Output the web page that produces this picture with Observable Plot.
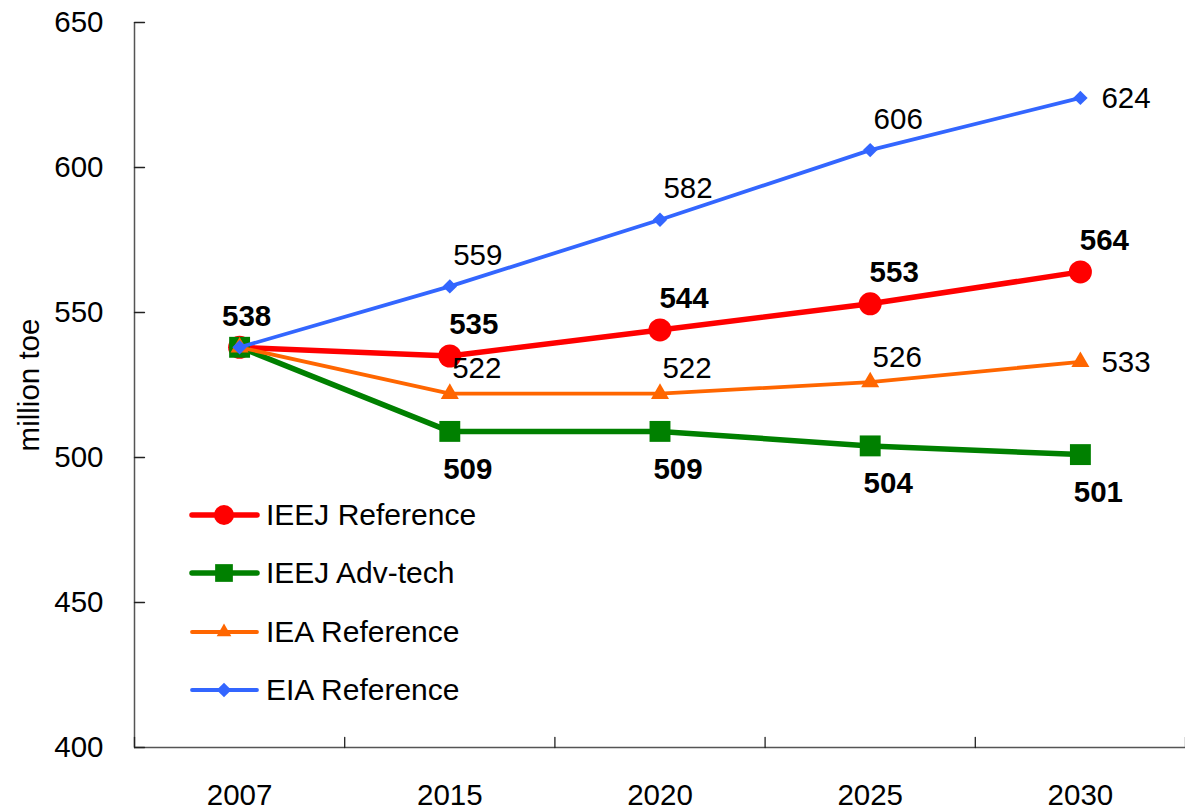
<!DOCTYPE html>
<html>
<head>
<meta charset="utf-8">
<script src="https://cdn.jsdelivr.net/npm/d3@7"></script>
<script src="https://cdn.jsdelivr.net/npm/@observablehq/plot@0.6"></script>
<style>
  html, body { margin: 0; padding: 0; background: #fff; }
  #wrap { position: relative; width: 1185px; height: 810px; font-family: "Liberation Sans", Arial, sans-serif; }
  #legend { position: absolute; left: 0; top: 0; }
  .lrow { position: absolute; left: 189px; height: 36px; display: flex; align-items: center; font-size: 30px; color: #000; white-space: nowrap; }
  .lrow svg { margin-right: 6px; }
</style>
</head>
<body>
<div id="wrap"><div id="legend"></div></div>
<script>
// ---- data ----
const years = ["2007", "2015", "2020", "2025", "2030"];
const ieejReference = [538, 535, 544, 553, 564];
const ieejAdvTech = [538, 509, 509, 504, 501];
const ieaReference = [538, 522, 522, 526, 533];
const eiaReference = [538, 559, 582, 606, 624];
const seriesNames = ["IEEJ Reference", "IEEJ Adv-tech", "IEA Reference", "EIA Reference"];
const yTicks = [400, 450, 500, 550, 600, 650];
const yLabel = "million toe";

// ---- styles ----
const styles = [
  {color: "#FF0000", width: 5.5, symbol: "circle", r: 11.5, legendR: 10, bold: true, dx: 24, dy: -31, firstDx: 7, lastRight: false},
  {color: "#008000", width: 5.5, symbol: "square", r: 11.8, legendR: 10, bold: true, dx: 18, dy: 38, lastRight: false},
  {color: "#FF6600", width: 3.8, symbol: "triangle", r: 6.7, legendR: 7, bold: false, dx: 27, dy: -25, lastRight: true},
  {color: "#3366FF", width: 3.8, symbol: "diamond2", r: 6.5, legendR: 6.6, bold: false, dx: 28, dy: -31, lastRight: true}
];

const allValues = [ieejReference, ieejAdvTech, ieaReference, eiaReference];
const rows = [];
allValues.forEach((vals, s) => vals.forEach((v, i) => rows.push({series: seriesNames[s], s, i, year: years[i], value: v})));

const font = "Liberation Sans, Arial, sans-serif";
const FS = 29.5;
const xIdx = years.map((_, i) => i);
const bounds = d3.range(-0.5, years.length, 1);
const tickShape = {draw(context, l) { context.moveTo(0, 0); context.lineTo(0, -l); }};

const marks = [
  // axis lines
  Plot.ruleY([yTicks[0]], {x1: -0.5, x2: years.length - 0.5, stroke: "#555", strokeWidth: 1.5}),
  Plot.ruleX([-0.5], {y1: yTicks[0], y2: yTicks[yTicks.length - 1], stroke: "#555", strokeWidth: 1.5}),
  // inward ticks
  Plot.vector(yTicks, {x: () => -0.5, y: d => d, rotate: 90, length: 10, anchor: "start", shape: tickShape, stroke: "#222", strokeWidth: 1.3}),
  Plot.vector(bounds, {x: d => d, y: () => yTicks[0], rotate: 0, length: 10, anchor: "start", shape: tickShape, stroke: "#222", strokeWidth: 1.3}),
  Plot.axisY({ticks: yTicks, tickSize: 0, tickPadding: 31, fontSize: FS, label: yLabel, labelAnchor: "center", labelArrow: "none", labelOffset: 116}),
  Plot.axisX({ticks: xIdx, tickFormat: i => years[i], tickSize: 0, tickPadding: 37, fontSize: FS, label: null})
];

styles.forEach((st, s) => {
  const data = rows.filter(d => d.s === s);
  marks.push(Plot.line(data, {x: "i", y: "value", stroke: st.color, strokeWidth: st.width, strokeLinejoin: "round", strokeLinecap: "round"}));
  marks.push(Plot.dot(data, {x: "i", y: "value", symbol: () => st.symbol, r: st.r, fill: st.color, stroke: "none"}));
});

const fmt = d => String(Math.round(d.value));
styles.forEach((st, s) => {
  const data = rows.filter(d => d.s === s);
  const fw = st.bold ? "bold" : "normal";
  const last = years.length - 1;
  const mid = data.filter(d => d.i > 0 && !(st.lastRight && d.i === last));
  marks.push(Plot.text(mid, {x: "i", y: "value", text: fmt, dx: st.dx, dy: st.dy, fontSize: FS, fontWeight: fw, fill: "#000"}));
  if (st.firstDx !== undefined) {
    marks.push(Plot.text(data.filter(d => d.i === 0), {x: "i", y: "value", text: fmt, dx: st.firstDx, dy: st.dy, fontSize: FS, fontWeight: fw, fill: "#000"}));
  }
  if (st.lastRight) {
    marks.push(Plot.text(data.filter(d => d.i === last), {x: "i", y: "value", text: fmt, dx: 21, dy: 1, textAnchor: "start", fontSize: FS, fontWeight: fw, fill: "#000"}));
  }
});

const chart = Plot.plot({
  width: 1185,
  height: 810,
  marginLeft: 134,
  marginRight: 0,
  marginTop: 22,
  marginBottom: 63,
  style: {fontFamily: font, fontSize: FS + "px", color: "#000", background: "#fff", overflow: "visible"},
  x: {type: "linear", domain: [-0.5, years.length - 0.5], axis: null},
  y: {domain: [yTicks[0], yTicks[yTicks.length - 1]], axis: null},
  marks
});
document.getElementById("wrap").prepend(chart);

// ---- legend ----
const legend = document.getElementById("legend");
const legendTops = [497, 555, 614, 672];
styles.forEach((st, s) => {
  const row = document.createElement("div");
  row.className = "lrow";
  row.style.top = legendTops[s] + "px";
  const svgNS = "http://www.w3.org/2000/svg";
  const svg = document.createElementNS(svgNS, "svg");
  svg.setAttribute("width", 71); svg.setAttribute("height", 36);
  const line = document.createElementNS(svgNS, "line");
  line.setAttribute("x1", 3); line.setAttribute("x2", 68); line.setAttribute("y1", 18); line.setAttribute("y2", 18);
  line.setAttribute("stroke", st.color); line.setAttribute("stroke-width", st.width); line.setAttribute("stroke-linecap", "round");
  svg.appendChild(line);
  const sym = {circle: d3.symbolCircle, square: d3.symbolSquare, triangle: d3.symbolTriangle2, diamond2: d3.symbolDiamond2}[st.symbol];
  const path = document.createElementNS(svgNS, "path");
  path.setAttribute("d", d3.symbol(sym, Math.PI * st.legendR * st.legendR)());
  path.setAttribute("transform", "translate(35,18)");
  path.setAttribute("fill", st.color);
  svg.appendChild(path);
  row.appendChild(svg);
  const span = document.createElement("span");
  span.textContent = seriesNames[s];
  row.appendChild(span);
  legend.appendChild(row);
});
</script>
</body>
</html>
